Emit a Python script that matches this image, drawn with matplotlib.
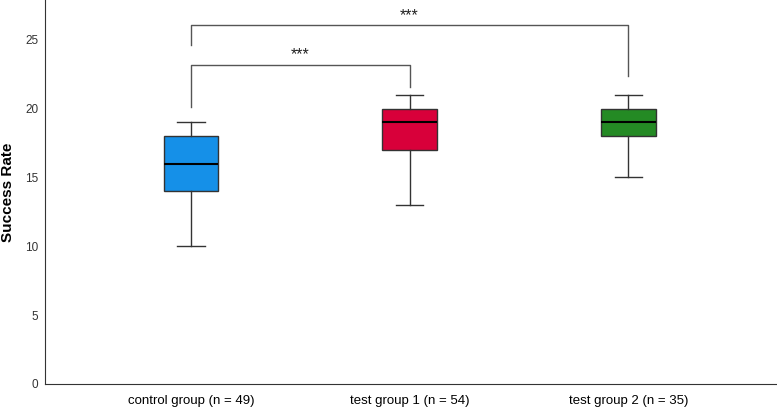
import matplotlib
matplotlib.use("Agg")
import matplotlib.pyplot as plt

plt.rcParams["font.family"] = ["Liberation Sans", "DejaVu Sans"]

groups = ["control group (n = 49)", "test group 1 (n = 54)", "test group 2 (n = 35)"]
whislo = [10, 13, 15]
q1 = [14, 17, 18]
med = [16, 19, 19]
q3 = [18, 20, 20]
whishi = [19, 21, 21]
colors = ["#1590E8", "#D8003A", "#248A24"]

# significance brackets: (left group, right group, bar height, left end, right end, label)
brackets = [
    (0, 1, 23.2, 20.1, 21.6, "***"),
    (0, 2, 26.1, 24.6, 22.4, "***"),
]

stats = [dict(label=g, whislo=lo, q1=a, med=m, q3=b, whishi=hi, fliers=[])
         for g, lo, a, m, b, hi in zip(groups, whislo, q1, med, q3, whishi)]

fig = plt.figure(figsize=(7.77, 4.07), dpi=100)
ax = fig.add_axes([0.058, 0.057, 0.942, 0.943])

bp = ax.bxp(stats, positions=range(len(groups)), widths=0.25, patch_artist=True,
            showfliers=False,
            boxprops=dict(edgecolor="#333333", linewidth=1.0),
            whiskerprops=dict(color="#333333", linewidth=1.0),
            capprops=dict(color="#333333", linewidth=1.0),
            medianprops=dict(color="black", linewidth=1.5),
            capwidths=0.125)
for patch, c in zip(bp["boxes"], colors):
    patch.set_facecolor(c)

for x0, x1, h, l, r, txt in brackets:
    ax.plot([x0, x0, x1, x1], [l, h, h, r], color="#555555", linewidth=1.0)
    ax.text((x0 + x1) / 2, h + 0.15, txt, ha="center", va="bottom", fontsize=11.5, color="#222222")

ax.set_xlim(-0.667, 2.68)
ax.set_ylim(0, 27.9)
ax.set_yticks([0, 5, 10, 15, 20, 25])
ax.set_xticks(range(len(groups)), groups)
ax.tick_params(axis="y", length=0, pad=5, labelsize=8.5, labelcolor="#333333")
ax.tick_params(axis="x", length=0, pad=8, labelsize=9.5)
ax.set_ylabel("Success Rate", fontsize=11, fontweight="bold")
ax.yaxis.set_label_coords(-0.041, 0.5)
for s in ["top", "right"]:
    ax.spines[s].set_visible(False)
for s in ["left", "bottom"]:
    ax.spines[s].set_color("#333333")

fig.savefig("out.png", dpi=100)
